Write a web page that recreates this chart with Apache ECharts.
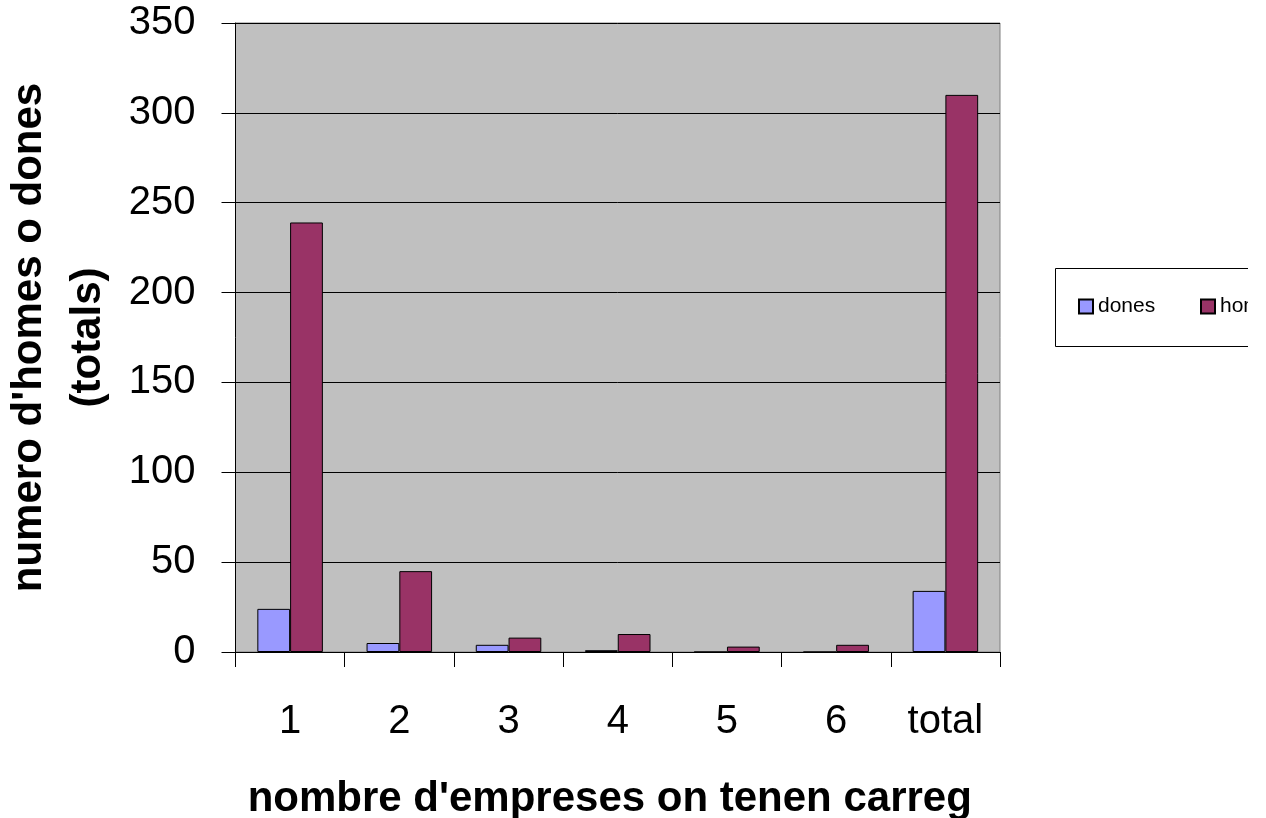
<!DOCTYPE html>
<html>
<head>
<meta charset="utf-8">
<script src="https://cdn.jsdelivr.net/npm/echarts@6/dist/echarts.min.js"></script>
<style>
  html, body { margin: 0; padding: 0; background: #fff; }
  #chart { width: 1266px; height: 818px; }
</style>
</head>
<body>
<div id="chart"></div>
<script>
const categories = ["1", "2", "3", "4", "5", "6", "total"];
const dones = [24, 5, 4, 1, 0, 0, 34];
const homes = [239, 45, 8, 10, 3, 4, 310];
const yTicks = { min: 0, max: 350, interval: 50 };

const font = "Arial, 'Liberation Sans', sans-serif";
const myChart = echarts.init(document.getElementById("chart"));

const option = {
  animation: false,
  textStyle: { fontFamily: font },
  grid: {
    left: 235.5,
    right: 266,
    top: 23,
    bottom: 166,
    containLabel: false,
    outerBoundsMode: "none",
    show: true,
    backgroundColor: "#c0c0c0",
    borderColor: "#808080",
    borderWidth: 1,
  },
  legend: [
    {
      data: ["dones"],
      left: 1073,
      top: 291,
      itemWidth: 14,
      itemHeight: 14,
      icon: "rect",
      textStyle: { fontSize: 21, color: "#000", fontFamily: font },
    },
    {
      data: ["homes"],
      left: 1195,
      top: 291,
      itemWidth: 14,
      itemHeight: 14,
      icon: "rect",
      textStyle: { fontSize: 21, color: "#000", fontFamily: font },
    },
  ],
  xAxis: {
    type: "category",
    data: categories,
    axisLine: { lineStyle: { color: "#000", width: 1 } },
    axisTick: { show: true, interval: 0, length: 15, lineStyle: { color: "#000" } },
    axisLabel: { fontSize: 40, color: "#000", margin: 50, fontFamily: font },
    name: "nombre d'empreses on tenen carreg",
    nameLocation: "middle",
    nameGap: 126,
    nameTextStyle: {
      fontSize: 42,
      fontWeight: "bold",
      color: "#000",
      fontFamily: font,
      padding: [0, 16, 0, 0],
    },
  },
  yAxis: {
    type: "value",
    min: yTicks.min,
    max: yTicks.max,
    interval: yTicks.interval,
    axisLine: { show: true, lineStyle: { color: "#000", width: 1 } },
    axisTick: { show: true, length: 14, lineStyle: { color: "#000" } },
    axisLabel: { fontSize: 40, color: "#000", margin: 40, fontFamily: font },
    splitLine: { show: true, lineStyle: { color: "#000", width: 1 } },
    name: "numero d'homes o dones\n(totals)",
    nameLocation: "middle",
    nameRotate: 90,
    nameGap: 118,
    nameTextStyle: {
      fontSize: 42,
      fontWeight: "bold",
      color: "#000",
      lineHeight: 59,
      fontFamily: font,
    },
  },
  series: [
    {
      name: "dones",
      type: "bar",
      data: dones,
      barGap: "0%",
      barCategoryGap: "40%",
      itemStyle: { color: "#9999ff", borderColor: "#000", borderWidth: 1 },
    },
    {
      name: "homes",
      type: "bar",
      data: homes,
      barGap: "0%",
      barCategoryGap: "40%",
      itemStyle: { color: "#993366", borderColor: "#000", borderWidth: 1 },
    },
  ],
  graphic: [
    {
      type: "rect",
      z: -1,
      shape: { x: 1055.5, y: 268.5, width: 300, height: 78 },
      style: { fill: "#fff", stroke: "#000", lineWidth: 1 },
    },
    {
      type: "rect",
      z: 100,
      shape: { x: 1248, y: 0, width: 18, height: 818 },
      style: { fill: "#fff" },
    },
  ],
};

option && myChart.setOption(option);
</script>
</body>
</html>
